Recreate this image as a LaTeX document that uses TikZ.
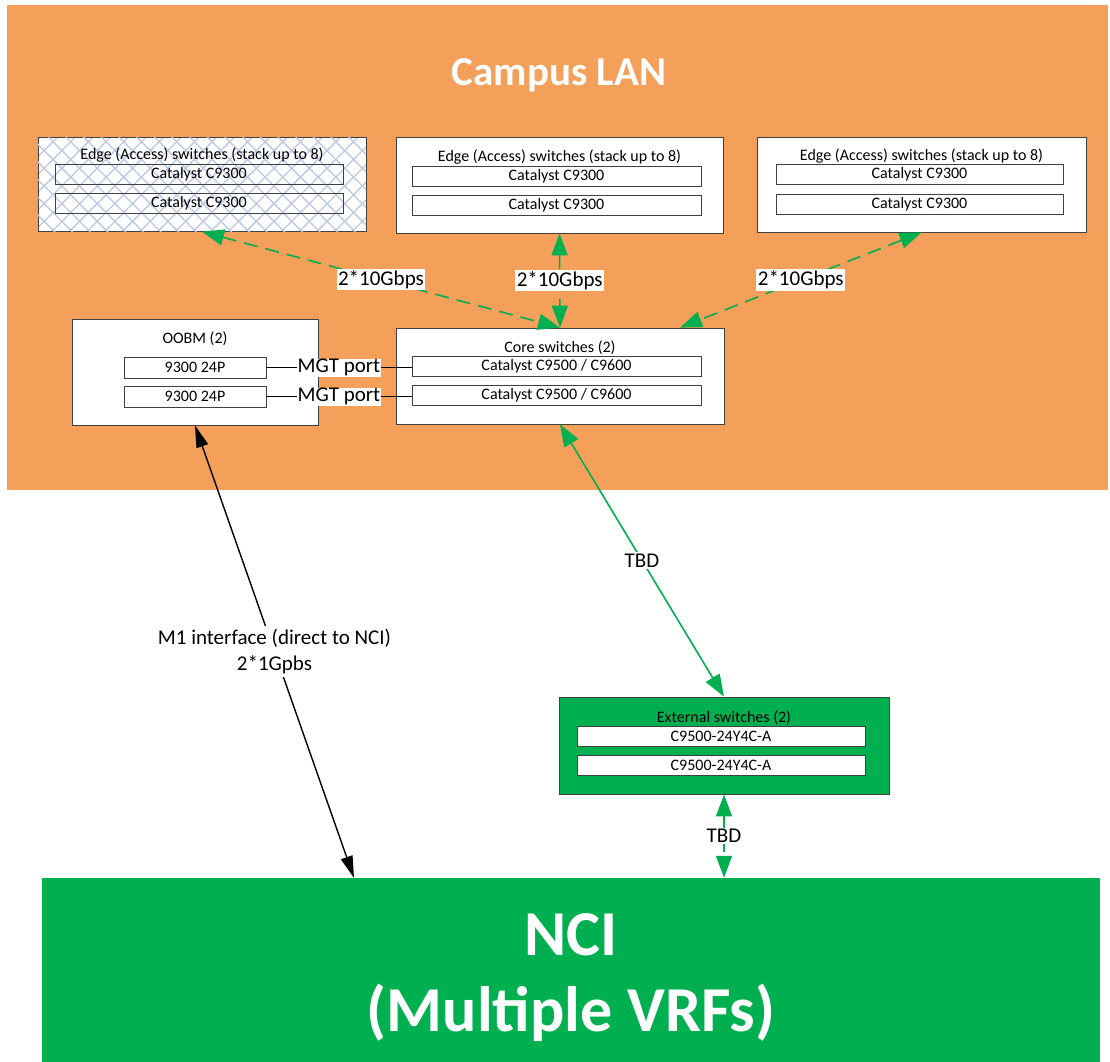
\documentclass[tikz,border=0pt]{standalone}
\usepackage{fontspec}
\setmainfont{Carlito}
\usetikzlibrary{positioning, arrows.meta, patterns.meta}

\definecolor{lanorange}{RGB}{244,160,90}
\definecolor{ncigreen}{RGB}{0,176,80}
\definecolor{hatch}{RGB}{188,200,224}

\tikzset{
  group/.style={draw=black!75, fill=white, line width=0.8pt, inner sep=0pt},
  unit/.style={draw=black!75, fill=white, line width=0.7pt, minimum height=20, inner sep=0pt,
    font=\fontsize{16}{18}\selectfont},
  title/.style={inner sep=0pt, font=\fontsize{16}{18}\selectfont},
  lbl/.style={fill=white, inner sep=1.5pt, font=\fontsize{21}{24}\selectfont},
  green link/.style={draw=ncigreen, line width=1.6pt,
    {Triangle[length=22pt,width=16pt]}-{Triangle[length=22pt,width=16pt]}},
  dashed link/.style={green link, dash pattern=on 14pt off 8pt},
}

\begin{document}
\begin{tikzpicture}[x=1pt, y=-1pt]
\useasboundingbox (0,0) rectangle (1110,1061);

% campus area
\fill[lanorange] (7,5) rectangle (1108,490);
\node[text=white, font=\bfseries\fontsize{41}{47}\selectfont] (campus) at (559,75) {Campus LAN};

% edge switches
\node[group, minimum width=328, minimum height=94, preaction={fill=white},
  pattern={Lines[angle=45,distance=12.5pt,line width=1.3pt]}, pattern color=hatch,
  postaction={pattern={Lines[angle=-45,distance=12.5pt,line width=1.3pt]}, pattern color=hatch}]
  (edgeA) at (202,184) {};
\node[title] at (202,155) {Edge (Access) switches (stack up to 8)};
\node[unit, fill=none, minimum width=288] (edgeA1) at (199,174) {Catalyst C9300};
\node[unit, fill=none, minimum width=288] (edgeA2) at (199,203) {Catalyst C9300};

\node[group, minimum width=327, minimum height=96] (edgeB) at (559.5,185) {};
\node[title] at (559.5,157) {Edge (Access) switches (stack up to 8)};
\node[unit, minimum width=289] (edgeB1) at (556.5,176) {Catalyst C9300};
\node[unit, minimum width=289] (edgeB2) at (556.5,205) {Catalyst C9300};

\node[group, minimum width=329, minimum height=95] (edgeC) at (921.5,184.5) {};
\node[title] at (921.5,156) {Edge (Access) switches (stack up to 8)};
\node[unit, minimum width=287] (edgeC1) at (919.5,174.5) {Catalyst C9300};
\node[unit, minimum width=287] (edgeC2) at (919.5,204) {Catalyst C9300};

% core and oobm
\node[group, minimum width=328, minimum height=96] (core) at (560,376) {};
\node[title] at (560,348) {Core switches (2)};
\node[unit, minimum width=289] (core1) at (556.5,366) {Catalyst C9500 / C9600};
\node[unit, minimum width=289] (core2) at (556.5,395) {Catalyst C9500 / C9600};

\node[group, minimum width=246, minimum height=106] (oobm) at (195,372) {};
\node[title] at (195,339) {OOBM (2)};
\node[unit, minimum width=142, minimum height=21] (oobm1) at (195,367.5) {9300 24P};
\node[unit, minimum width=142, minimum height=21] (oobm2) at (195,396.5) {9300 24P};

\draw[line width=1.2pt] (oobm1.east) -- node[lbl, inner sep=0.5pt] {MGT port} (oobm1.east -| core1.west);
\draw[line width=1.2pt] (oobm2.east) -- node[lbl, inner sep=0.5pt] {MGT port} (oobm2.east -| core2.west);

% external switches
\node[group, fill=ncigreen, minimum width=330, minimum height=97] (ext) at (724,745.5) {};
\node[title] at (724,718) {External switches (2)};
\node[unit, minimum width=288] (ext1) at (721,736) {C9500-24Y4C-A};
\node[unit, minimum width=288] (ext2) at (721,765) {C9500-24Y4C-A};

% nci (runs past the page foot)
\node[fill=ncigreen, minimum width=1058, minimum height=199, align=center, text=white,
  font=\bfseries\fontsize{64}{76}\selectfont] (nci) at (571,977.5) {NCI\\(Multiple VRFs)};
\coordinate (m1) at (354,878);

% links
\draw[dashed link] (edgeA.south) -- node[lbl] {2*10Gbps} (core.north);
\draw[dashed link] (edgeB.south) -- node[lbl] {2*10Gbps} (core.north);
\draw[dashed link] (edgeC.south) -- node[lbl] {2*10Gbps} ([xshift=120]core.north);
\draw[green link] (core.south) -- node[lbl] {TBD} (ext.north);
\draw[dashed link] (ext.south) -- node[lbl] {TBD} (ext.south |- nci.north);
\draw[line width=1.4pt, {Triangle[length=22pt,width=12pt]}-{Triangle[length=22pt,width=12pt]}]
  (oobm.south) -- node[fill=white, align=center, font=\fontsize{21}{26}\selectfont]
  {M1 interface (direct to NCI)\\2*1Gpbs} (m1);

\end{tikzpicture}
\end{document}
